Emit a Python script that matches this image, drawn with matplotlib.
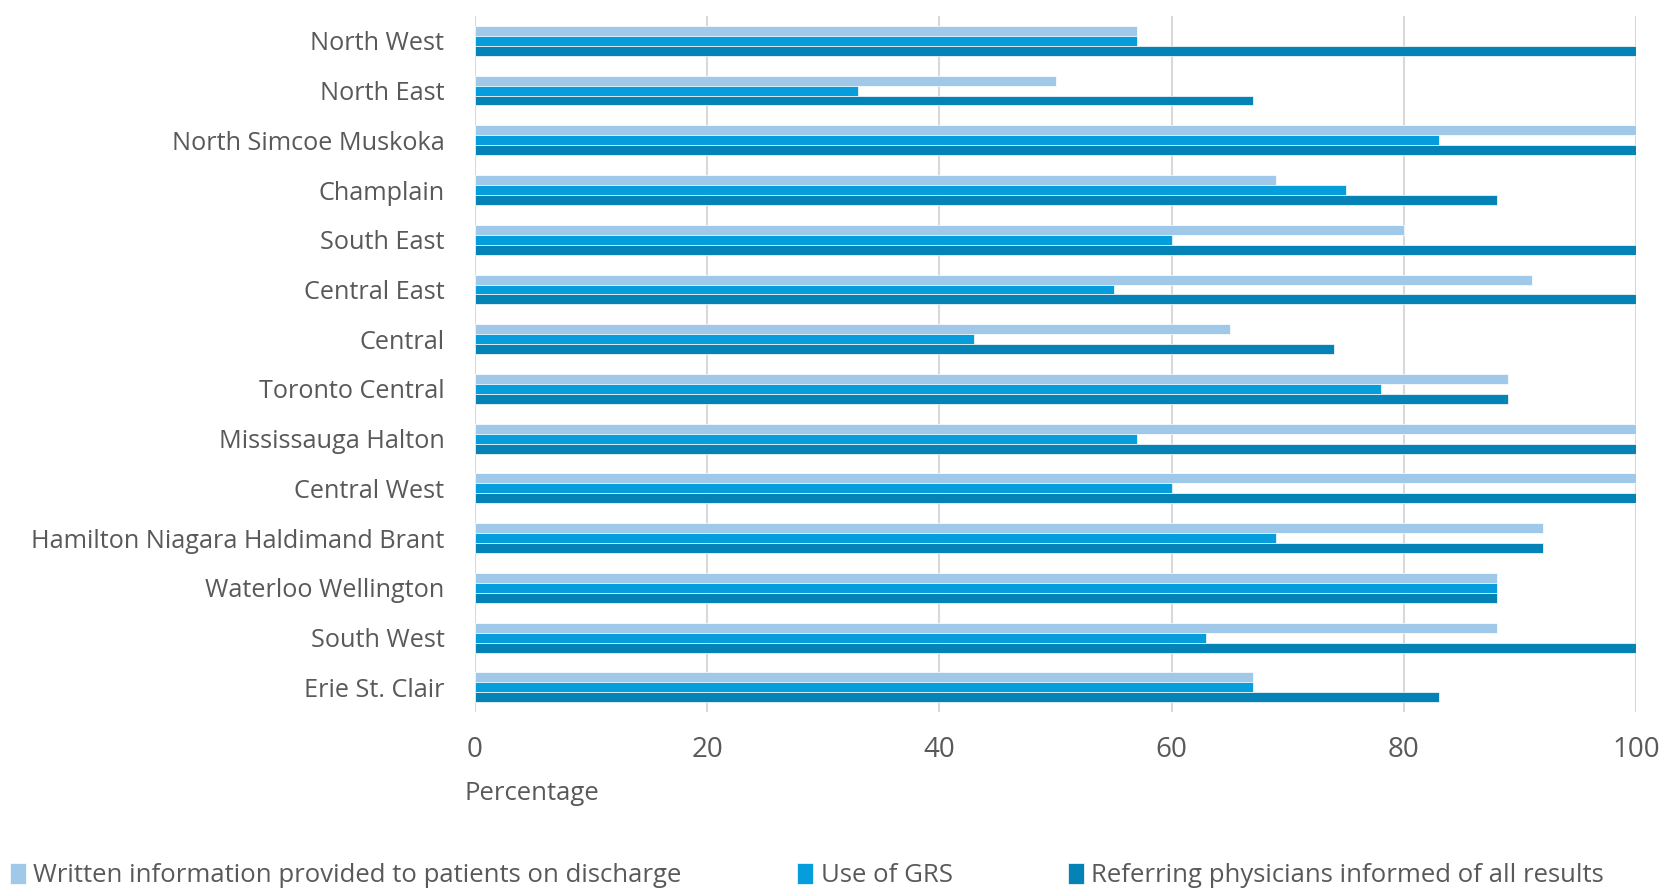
import matplotlib.pyplot as plt
import numpy as np

regions = ['North West', 'North East', 'North Simcoe Muskoka', 'Champlain', 'South East',
           'Central East', 'Central', 'Toronto Central', 'Mississauga Halton', 'Central West',
           'Hamilton Niagara Haldimand Brant', 'Waterloo Wellington', 'South West', 'Erie St. Clair']
written_info = [57, 50, 100, 69, 80, 91, 65, 89, 100, 100, 92, 88, 88, 67]
use_of_grs = [57, 33, 83, 75, 60, 55, 43, 78, 57, 60, 69, 88, 63, 67]
physicians_informed = [100, 67, 100, 88, 100, 100, 74, 89, 100, 100, 92, 88, 100, 83]

series_names = ['Written information provided to patients on discharge', 'Use of GRS',
                'Referring physicians informed of all results']
colors = ['#A0C8E8', '#059DDB', '#0583B6']
text_col = '#595959'

plt.rcParams['font.family'] = ['Open Sans', 'DejaVu Sans']

fig = plt.figure(figsize=(16.65, 8.88), dpi=100)
ax = fig.add_axes([0.2853, 0.198, 0.6973, 0.784])

y = np.arange(len(regions))
h = 0.2
for k, vals in enumerate([written_info, use_of_grs, physicians_informed]):
    ax.barh(y + (k - 1) * h, vals, height=h, color=colors[k], edgecolor='white',
            linewidth=0.5, label=series_names[k], zorder=2)

ax.set_ylim(len(regions) - 0.5, -0.5)
ax.set_xlim(0, 100)
ax.set_xticks(range(0, 101, 20))
ax.set_yticks(y)
ax.set_yticklabels(regions, fontsize=18.2, color=text_col)
ax.tick_params(axis='x', labelsize=20, labelcolor=text_col, length=0, pad=17)
ax.tick_params(axis='y', length=0, pad=22)
ax.grid(axis='x', color='#D9D9D9', linewidth=1.5, zorder=0)
for s in ax.spines.values():
    s.set_visible(False)

fig.text(0.2787, 0.106, 'Percentage', fontsize=18.5, color=text_col, va='center')

fig.legend(loc='lower left', bbox_to_anchor=(0.0, -0.012), ncol=3, frameon=False,
           fontsize=18.5, labelcolor=text_col, handlelength=0.6, handleheight=0.9,
           handletextpad=0.3, columnspacing=4.5, borderaxespad=0)

fig.savefig('out.png', dpi=100)
